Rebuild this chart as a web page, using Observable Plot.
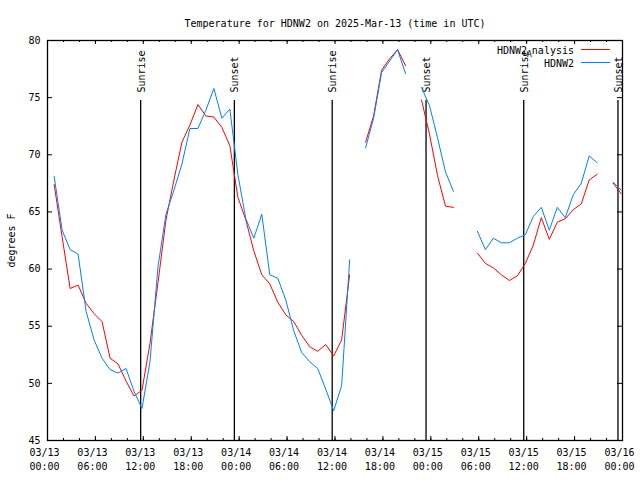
<!DOCTYPE html>
<html><head><meta charset="utf-8">
<script src="https://cdn.jsdelivr.net/npm/d3@7"></script>
<script src="https://cdn.jsdelivr.net/npm/@observablehq/plot@0.6"></script>
<style>body{margin:0;background:#fff} svg{display:block}</style>
</head><body><div id="chart"></div>
<script>
const times = [
"2025-03-13T00:50Z","2025-03-13T01:50Z","2025-03-13T02:50Z","2025-03-13T03:50Z","2025-03-13T04:50Z","2025-03-13T05:50Z",
"2025-03-13T06:50Z","2025-03-13T07:50Z","2025-03-13T08:50Z","2025-03-13T09:50Z","2025-03-13T10:50Z","2025-03-13T11:50Z",
"2025-03-13T12:50Z","2025-03-13T13:50Z","2025-03-13T14:50Z","2025-03-13T15:50Z","2025-03-13T16:50Z","2025-03-13T17:50Z",
"2025-03-13T18:50Z","2025-03-13T19:50Z","2025-03-13T20:50Z","2025-03-13T21:50Z","2025-03-13T22:50Z","2025-03-13T23:50Z",
"2025-03-14T00:50Z","2025-03-14T01:50Z","2025-03-14T02:50Z","2025-03-14T03:50Z","2025-03-14T04:50Z","2025-03-14T05:50Z",
"2025-03-14T06:50Z","2025-03-14T07:50Z","2025-03-14T08:50Z","2025-03-14T09:50Z","2025-03-14T10:50Z","2025-03-14T11:50Z",
"2025-03-14T12:50Z","2025-03-14T13:50Z","2025-03-14T14:50Z","2025-03-14T15:50Z","2025-03-14T16:50Z","2025-03-14T17:50Z",
"2025-03-14T18:50Z","2025-03-14T19:50Z","2025-03-14T20:50Z","2025-03-14T21:50Z","2025-03-14T22:50Z","2025-03-14T23:50Z",
"2025-03-15T00:50Z","2025-03-15T01:50Z","2025-03-15T02:50Z","2025-03-15T03:50Z","2025-03-15T04:50Z","2025-03-15T05:50Z",
"2025-03-15T06:50Z","2025-03-15T07:50Z","2025-03-15T08:50Z","2025-03-15T09:50Z","2025-03-15T10:50Z","2025-03-15T11:50Z",
"2025-03-15T12:50Z","2025-03-15T13:50Z","2025-03-15T14:50Z","2025-03-15T15:50Z","2025-03-15T16:50Z","2025-03-15T17:50Z",
"2025-03-15T18:50Z","2025-03-15T19:50Z","2025-03-15T20:50Z","2025-03-15T21:50Z","2025-03-15T22:50Z","2025-03-15T23:50Z"
];
const analysis = [
67.4,62.8,58.3,58.6,57.0,56.1,55.4,52.2,51.7,50.2,48.9,49.4,
53.5,58.8,64.3,67.8,71.1,72.6,74.4,73.4,73.3,72.4,70.8,66.3,
64.3,61.6,59.5,58.7,57.1,56.0,55.4,54.2,53.2,52.8,53.4,52.4,
53.8,59.5,null,71.1,73.4,77.4,78.4,79.2,77.8,null,74.8,71.8,
68.2,65.5,65.4,null,null,61.4,60.5,60.1,59.5,59.0,59.4,60.5,
62.1,64.5,62.6,64.1,64.4,65.2,65.7,67.8,68.3,null,67.5,66.6
];
const observed = [
68.1,63.4,61.7,61.3,56.3,53.8,52.2,51.2,50.9,51.3,49.3,47.8,
51.9,60.2,64.8,66.9,69.2,72.3,72.3,73.9,75.8,73.2,74.0,68.3,
64.4,62.7,64.8,59.5,59.2,57.3,54.6,52.7,51.9,51.3,49.5,47.6,
49.8,60.8,null,70.6,73.2,77.2,78.2,79.2,77.1,null,75.9,74.3,
71.5,68.5,66.8,null,null,63.3,61.7,62.7,62.3,62.3,62.7,63.0,
64.6,65.4,63.4,65.4,64.5,66.5,67.5,69.9,69.3,null,67.6,66.9
];
const eventTimes = ["2025-03-13T11:40Z","2025-03-13T23:24Z","2025-03-14T11:39Z","2025-03-14T23:24Z","2025-03-15T11:38Z","2025-03-15T23:26Z"];
const eventLabels = ["Sunrise","Sunset","Sunrise","Sunset","Sunrise","Sunset"];
const yTicks = [45,50,55,60,65,70,75,80];
const xDomain = ["2025-03-13T00:00Z","2025-03-16T00:00Z"];
const titleText = "Temperature for HDNW2 on 2025-Mar-13 (time in UTC)";
const yLabel = "degrees F";
const seriesNames = ["HDNW2_Analysis","HDNW2"];
const seriesColors = ["#ff0000","#0080ff"];

const W = 640, H = 480, mL = 47, mR = 18, mT = 40, mB = 40;
const innerW = W - mL - mR, innerH = H - mT - mB;

const rows = times.map((t, i) => ({time: new Date(t), analysis: analysis[i], observed: observed[i]}));
const events = eventTimes.map((t, i) => ({time: new Date(t), label: eventLabels[i]}));
const d0 = new Date(xDomain[0]), d1 = new Date(xDomain[1]);
const minor = d3.utcHour.every(2).range(d0, new Date(+d1 + 1));
const major = d3.utcHour.every(6).range(d0, new Date(+d1 + 1));
const fmt = d3.utcFormat("%m/%d\n%H:%M");

const plot = Plot.plot({
  width: W, height: H,
  marginLeft: mL, marginRight: mR, marginTop: mT, marginBottom: mB,
  style: {fontFamily: "'DejaVu Sans Mono', monospace", fontSize: "10px", background: "white", color: "black"},
  x: {type: "utc", domain: [d0, d1]},
  y: {domain: [45, 80]},
  marks: [
    Plot.ruleX(events, {x: "time", insetTop: 60, stroke: "black", strokeWidth: 1.3}),
    Plot.text(events, {x: "time", text: "label", frameAnchor: "top", dy: 52, dx: 4, rotate: -90, textAnchor: "start", lineAnchor: "bottom", fill: "black"}),
    Plot.line(rows, {x: "time", y: "analysis", stroke: seriesColors[0], strokeWidth: 1}),
    Plot.line(rows, {x: "time", y: "observed", stroke: seriesColors[1], strokeWidth: 1}),
    Plot.tickX(minor, {x: d => d, insetTop: innerH - 2, stroke: "black"}),
    Plot.tickX(minor, {x: d => d, insetBottom: innerH - 2, stroke: "black"}),
    Plot.tickX(major, {x: d => d, insetTop: innerH - 4, stroke: "black"}),
    Plot.tickX(major, {x: d => d, insetBottom: innerH - 4, stroke: "black"}),
    Plot.tickY(yTicks, {y: d => d, insetRight: innerW - 5, stroke: "black"}),
    Plot.tickY(yTicks, {y: d => d, insetLeft: innerW - 5, stroke: "black"}),
    Plot.axisX({ticks: major, tickSize: 0, tickPadding: 6, dx: -3, tickFormat: fmt, lineHeight: 1.4, label: null}),
    Plot.axisY({ticks: yTicks, tickSize: 0, tickPadding: 7, label: null}),
    Plot.text([yLabel], {text: d => d, frameAnchor: "left", dx: -36, rotate: -90, lineAnchor: "middle", textAnchor: "middle", fill: "black"}),
    Plot.text([titleText], {text: d => d, frameAnchor: "top", dy: -14, lineAnchor: "bottom", textAnchor: "middle", fill: "black"}),
    Plot.frame({stroke: "black", strokeWidth: 1.3})
  ]
});

// legend (top-right, inside the frame)
const svg = d3.select(plot);
const lg = svg.append("g").attr("font-family", "'DejaVu Sans Mono', monospace").attr("font-size", 10).attr("fill", "black");
const tx = W - mR - 48, lx1 = W - mR - 41, lx2 = W - mR - 12;
const rowsY = [mT + 13.5, mT + 26.5];
seriesNames.forEach((name, i) => {
  const t = lg.append("text").attr("x", tx).attr("y", rowsY[i]).attr("text-anchor", "end");
  const k = name.indexOf("_");
  if (k >= 0) {
    t.append("tspan").text(name.slice(0, k));
    t.append("tspan").attr("font-size", 8).attr("dy", 3).text(name[k + 1]);
    t.append("tspan").attr("dy", -3).text(name.slice(k + 2));
  } else t.text(name);
  lg.append("line").attr("x1", lx1).attr("x2", lx2).attr("y1", rowsY[i] - 4).attr("y2", rowsY[i] - 4)
    .attr("stroke", seriesColors[i]).attr("stroke-width", 1);
});

document.getElementById("chart").appendChild(plot);
</script>
</body></html>
